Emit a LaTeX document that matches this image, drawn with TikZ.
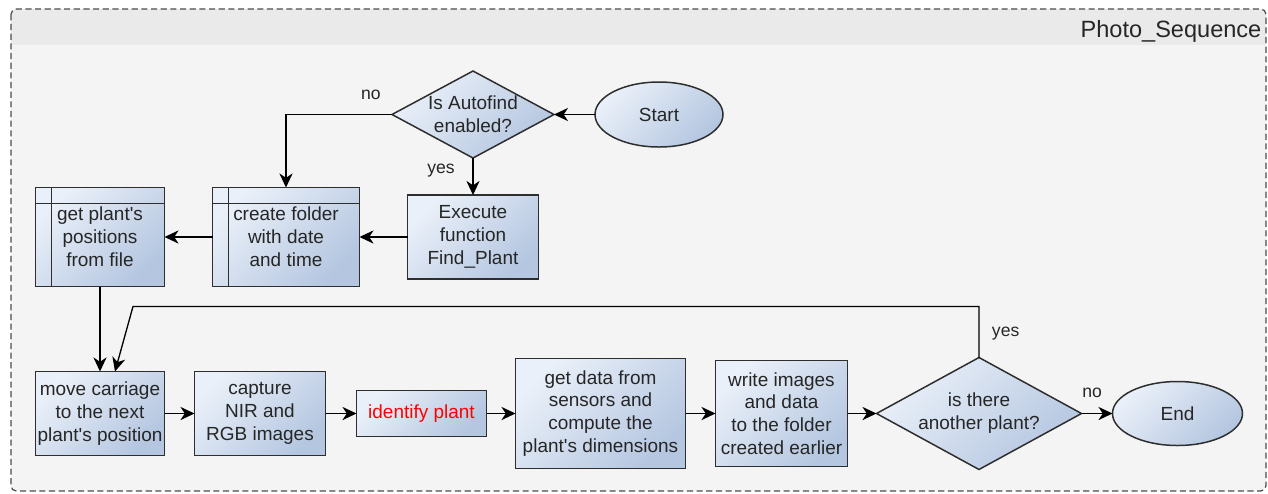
\documentclass[tikz,border=0pt]{standalone}
\usepackage{fontspec}
\setmainfont{Liberation Sans}
\usetikzlibrary{arrows.meta,positioning,shapes.geometric}

\definecolor{boxlight}{HTML}{EAF0F9}
\definecolor{boxdark}{HTML}{B4C6E0}
\definecolor{edgegray}{HTML}{2E2E2E}
\definecolor{panel}{HTML}{F4F4F4}
\definecolor{titleband}{HTML}{EAEAEA}

\newcommand{\apos}{\textquotesingle}

\tikzset{
  base/.style={draw=edgegray, line width=0.85pt, left color=boxlight, right color=boxdark,
    shading angle=45, text=black!85, align=center, inner sep=0pt, outer sep=0pt,
    font=\fontsize{10.8}{13}\selectfont},
  proc/.style={base, rectangle},
  % box with the two extra lines for a predefined step
  subproc/.style={proc, path picture={
      \draw[edgegray, line width=0.8pt]
        ([yshift=-0.32cm]path picture bounding box.north west) --
        ([yshift=-0.32cm]path picture bounding box.north east);
      \draw[edgegray, line width=0.8pt]
        ([xshift=0.32cm]path picture bounding box.north west) --
        ([xshift=0.32cm]path picture bounding box.south west);}},
  decision/.style={base, diamond},
  terminal/.style={base, ellipse},
  lbl/.style={font=\fontsize{10}{12}\selectfont, text=black!85, inner sep=1pt},
}

\begin{document}
\begin{tikzpicture}[>={Stealth[length=8pt,width=7.5pt,inset=2.5pt]}, line width=0.75pt]
  \useasboundingbox (0,0) rectangle (25.36,-9.86);

  % frame with its title band
  \fill[panel, rounded corners=3pt] (0.22,-0.18) rectangle (25.32,-9.82);
  \fill[titleband, rounded corners=3pt] (0.22,-0.18) rectangle (25.32,-1.0);
  \fill[panel] (0.22,-0.9) rectangle (25.32,-1.05);
  \draw[black!70, dash pattern=on 3.5pt off 2pt, rounded corners=3pt, line width=0.7pt]
    (0.22,-0.18) rectangle (25.32,-9.82);
  \node[anchor=base east, font=\fontsize{13.4}{16}\selectfont, text=black!85, inner sep=0pt]
    (title) at (25.24,-0.74) {Photo\_Sequence};

  % upper part
  \node[subproc, minimum width=2.58cm, minimum height=1.98cm] (getpos) at (2.0,-4.74)
    {get plant\apos s\\positions\\from file};
  \node[subproc, minimum width=2.94cm, minimum height=1.98cm] (create) [right=0.96cm of getpos]
    {create folder\\with date\\and time};
  \node[proc, minimum width=2.62cm, minimum height=1.68cm] (exec) [right=0.96cm of create]
    {Execute\\function\\Find\_Plant};
  \node[decision, minimum width=3.24cm, minimum height=1.74cm, aspect=1.86] (auto) [above=0.74cm of exec]
    {Is Autofind\\enabled?};
  \node[terminal, minimum width=2.56cm, minimum height=1.3cm] (start) [right=0.82cm of auto] {Start};

  % lower part
  \node[proc, minimum width=2.58cm, minimum height=1.68cm] (move) [below=1.7cm of getpos]
    {move carriage\\to the next\\plant\apos s position};
  \node[proc, minimum width=2.62cm, minimum height=1.68cm] (capture) [right=0.6cm of move]
    {capture\\NIR and\\RGB images};
  \node[proc, minimum width=2.6cm, minimum height=0.92cm, text=red] (ident) [right=0.62cm of capture]
    {identify plant};
  \node[proc, minimum width=3.4cm, minimum height=2.2cm] (getdata) [right=0.58cm of ident]
    {get data from\\sensors and\\compute the\\plant\apos s dimensions};
  \node[proc, minimum width=2.64cm, minimum height=2.12cm] (write) [right=0.6cm of getdata]
    {write images\\and data\\to the folder\\created earlier};
  \node[decision, minimum width=4.1cm, minimum height=2.24cm, aspect=1.83] (another) [right=0.58cm of write]
    {is there\\another plant?};
  \node[terminal, minimum width=2.6cm, minimum height=1.28cm] (stop) [right=0.62cm of another] {End};

  % connectors
  \draw[->] (start) -- (auto);
  \draw[->] (auto.west) -| node[lbl, pos=0.1, above=7pt] {no} (create.north);
  \draw[->] (auto) -- node[lbl, pos=0.35, left=9pt] {yes} (exec);
  \draw[->] (exec) -- (create);
  \draw[->] (create) -- (getpos);
  \draw[->] (getpos) -- (move);
  \draw[->] (move) -- (capture);
  \draw[->] (capture) -- (ident);
  \draw[->] (ident) -- (getdata);
  \draw[->] (getdata) -- (write);
  \draw[->] (write) -- (another);
  \draw[->] (another) -- node[lbl, pos=0.34, above=7.5pt] {no} (stop);

  % back to the carriage for the next plant
  \coordinate (back) at ([xshift=0.3cm]move.north);
  \coordinate (bend) at ([xshift=0.36cm]back);
  \coordinate (loop) at ([yshift=1.02cm]another.north);
  \draw[->] (another.north) -- node[lbl, pos=0.47, right=6pt] {yes} (loop)
    -- (bend |- loop) -- (back);
\end{tikzpicture}
\end{document}
